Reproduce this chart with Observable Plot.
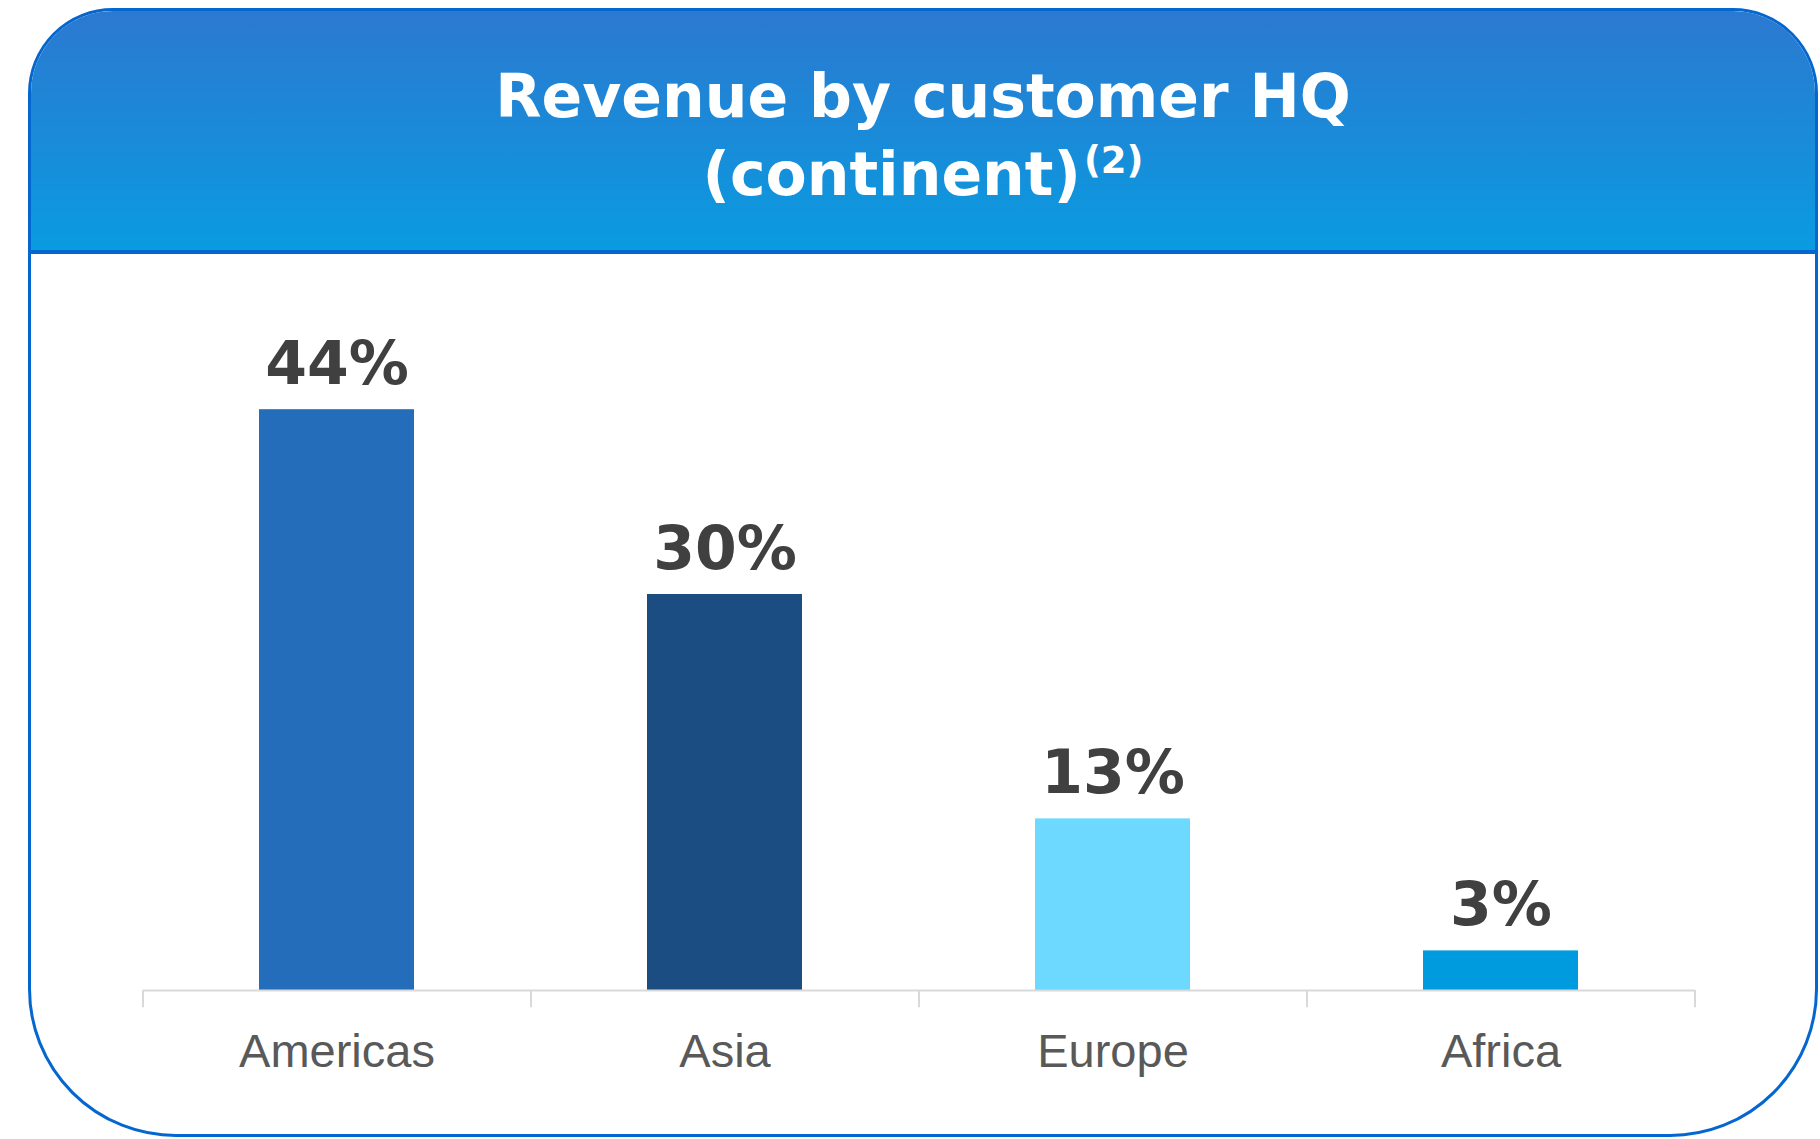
<!DOCTYPE html>
<html>
<head>
<meta charset="utf-8">
<script src="https://cdn.jsdelivr.net/npm/d3@7"></script>
<script src="https://cdn.jsdelivr.net/npm/@observablehq/plot@0.6"></script>
<style>
html,body{margin:0;padding:0;background:#fff;width:1820px;height:1139px;overflow:hidden;}
#card{position:absolute;left:28px;top:8px;width:1784px;height:1123px;border:3px solid #0466CF;border-radius:85px 85px 148px 148px;overflow:hidden;background:#fff;z-index:1;}
#header{position:absolute;left:0;top:0;right:0;height:239px;background:linear-gradient(#2B79D0,#0A9BE0);border-bottom:4px solid #0466CF;}
#title{position:absolute;left:0;right:0;top:46px;text-align:center;color:#fff;font-family:"DejaVu Sans";font-weight:700;font-size:60px;line-height:78px;white-space:nowrap;}
.sup{font-size:37px;position:relative;top:-22px;line-height:0;margin-left:3px;}
#chart{position:absolute;left:0;top:0;z-index:2;}
</style>
</head>
<body>
<div id="card">
  <div id="header">
    <div id="title">Revenue by customer HQ<br>(continent)<span class="sup">(2)</span></div>
  </div>
</div>
<div id="chart"></div>
<script>
const categories = ["Americas", "Asia", "Europe", "Africa"];
const shares = [44, 30, 13, 3];
const valueLabels = ["44%", "30%", "13%", "3%"];
const barColors = ["#236DBA", "#1B4D83", "#6DD9FE", "#009BDE"];

const data = categories.map((c, i) => ({category: c, share: shares[i], label: valueLabels[i]}));

const W = 1820, H = 1139;
const marginLeft = 143, marginRight = W - 1695;
const marginTop = 330, marginBottom = H - 990;
const step = (W - marginLeft - marginRight) / categories.length;

const chart = Plot.plot({
  width: W,
  height: H,
  marginLeft, marginRight, marginTop, marginBottom,
  style: {background: "transparent", color: "#595959", fontFamily: "Liberation Sans"},
  x: {domain: categories, paddingInner: 0.6, paddingOuter: 0.3, axis: null, label: null},
  y: {domain: [0, 50], axis: null},
  color: {domain: categories, range: barColors},
  marks: [
    Plot.barY(data, {x: "category", y: "share", fill: "category"}),
    Plot.ruleY([0], {stroke: "#D9D9D9", strokeWidth: 2}),
    Plot.ruleX(categories, {x: d => d, dx: -step / 2, y1: 0, y2: -1.3, stroke: "#D9D9D9", strokeWidth: 2}),
    Plot.ruleX(categories.slice(-1), {x: d => d, dx: step / 2, y1: 0, y2: -1.3, stroke: "#D9D9D9", strokeWidth: 2}),
    Plot.text(data, {x: "category", y: "share", text: "label", dy: -26, lineAnchor: "bottom",
      fontSize: 60, fontWeight: "bold", fill: "#404040", fontFamily: "DejaVu Sans"}),
    Plot.axisX({tickSize: 0, tickPadding: 43, fontSize: 47, fill: "#595959", fontFamily: "Liberation Sans", label: null})
  ]
});
document.getElementById("chart").appendChild(chart);
</script>
</body>
</html>
